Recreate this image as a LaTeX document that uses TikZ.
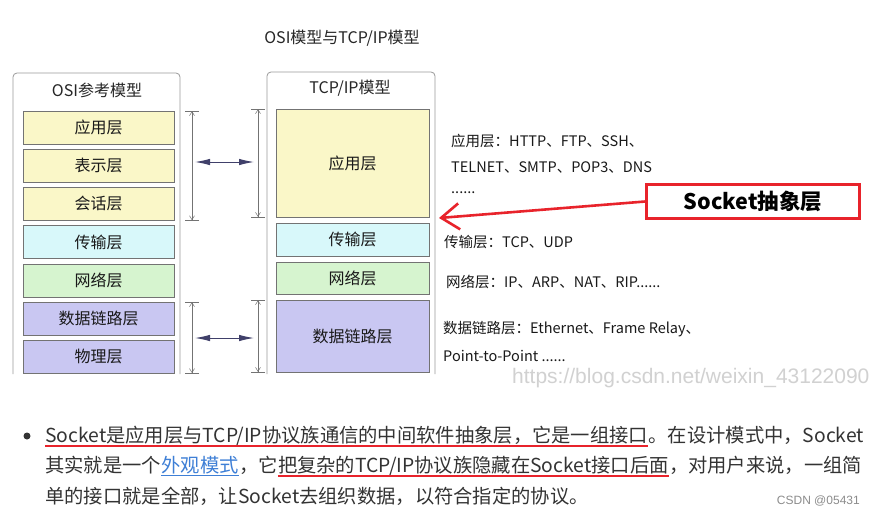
\documentclass[tikz,border=0pt]{standalone}
\usepackage{fontspec}
\setmainfont{Noto Sans CJK SC}
\newfontfamily\wmfont{Liberation Sans}
\usetikzlibrary{arrows.meta}
\definecolor{layeryellow}{HTML}{FAF7C8}
\definecolor{layercyan}{HTML}{D8F8FA}
\definecolor{layergreen}{HTML}{D6F4CF}
\definecolor{layerpurple}{HTML}{C9C7F2}
\definecolor{linkblue}{HTML}{3E7FD6}
\definecolor{textgray}{HTML}{333333}
\definecolor{markred}{HTML}{E8232B}
\definecolor{navy}{HTML}{1E1E50}

\begin{document}
\begin{tikzpicture}[x=1pt,y=-1pt,
  outer/.style={draw=black!40,line width=0.8pt,rounded corners=4pt},
  layer/.style={draw=black!55,line width=0.6pt,inner sep=0pt,font=\fontsize{16}{16}\selectfont,text=black!90},
  dim/.style={draw=black!55,line width=0.5pt,{Bar[width=14pt]Straight Barb[length=4pt,width=5pt]}-{Straight Barb[length=4pt,width=5pt]Bar[width=14pt]}},
  link/.style={draw=navy!85,line width=1pt,{Latex[length=15pt,width=6.5pt]}-{Latex[length=15pt,width=6.5pt]}},
  proto/.style={anchor=west,inner sep=0pt,font=\fontsize{14.5}{14.5}\selectfont,text=black!90},
  para/.style={anchor=base west,inner sep=0pt,font=\fontsize{19.3}{19.3}\selectfont,text=textgray},
  redline/.style={draw=markred,line width=1.4pt}]
  \useasboundingbox[fill=white] (0,0) rectangle (872,517);

  % models
  \node[font=\fontsize{16}{16}\selectfont,text=black!85] (title) at (342,38) {OSI模型与TCP/IP模型};
  \draw[outer] (13,374) -- (13,73) -- (180,73) -- (180,374);
  \draw[outer] (267,374) -- (267,72) -- (435,72) -- (435,374);
  \node[font=\fontsize{16}{16}\selectfont,text=black!85] (osititle) at (97,90) {OSI参考模型};
  \node[font=\fontsize{16}{16}\selectfont,text=black!85] (tcptitle) at (350,88) {TCP/IP模型};
  \foreach \i/\name/\col in {0/应用层/layeryellow,1/表示层/layeryellow,2/会话层/layeryellow,3/传输层/layercyan,4/网络层/layergreen,5/数据链路层/layerpurple,6/物理层/layerpurple}{
    \node[layer,fill=\col,minimum width=151pt,minimum height=33pt] (osi\i) at (98.5,{127.5+\i*38.2}) {\name};
  }
  \node[layer,fill=layeryellow,minimum width=153pt,minimum height=108pt] (tcp0) at (352.5,163) {应用层};
  \node[layer,fill=layercyan,minimum width=153pt,minimum height=33pt] (tcp1) at (352.5,239.5) {传输层};
  \node[layer,fill=layergreen,minimum width=153pt,minimum height=32pt] (tcp2) at (352.5,278) {网络层};
  \node[layer,fill=layerpurple,minimum width=153pt,minimum height=72pt] (tcp3) at (352.5,336) {数据链路层};

  % mapping
  \coordinate (dimL) at (192,0);
  \coordinate (dimR) at (258,0);
  \draw[dim] (osi0.north -| dimL) -- (osi2.south -| dimL);
  \draw[dim] (tcp0.north -| dimR) -- (tcp0.south -| dimR);
  \draw[dim] (osi5.north -| dimL) -- (osi6.south -| dimL);
  \draw[dim] (tcp3.north -| dimR) -- (tcp3.south -| dimR);
  \coordinate (upL) at (195,162);
  \coordinate (upR) at (254,162);
  \coordinate (lowL) at (195,338);
  \coordinate (lowR) at (254,338);
  \draw[link] (upL) -- (upR);
  \draw[link] (lowL) -- (lowR);

  % protocols
  \node[proto] (app1) at (451,141) {应用层：HTTP、FTP、SSH、};
  \node[proto] (app2) at (451,167) {TELNET、SMTP、POP3、DNS};
  \node[proto] (app3) at (451,193) {......};
  \node[proto] (trans) at (444,242) {传输层：TCP、UDP};
  \node[proto] (net) at (446,282) {网络层：IP、ARP、NAT、RIP......};
  \node[proto] (link1) at (443,329) {数据链路层：Ethernet、Frame Relay、};
  \node[proto] (link2) at (443,356) {Point-to-Point ......};
  \node[draw=markred,line width=2.6pt,minimum width=213pt,minimum height=34pt,inner sep=0pt,font=\fontsize{21.5}{21.5}\selectfont\bfseries] (socket) at (753,201.5) {Socket抽象层};
  \coordinate (tip) at (439,218);
  \draw[markred,line width=2.6pt,-{Straight Barb[length=18pt,width=26pt]}] (socket.west) -- (tip);
  \node[anchor=west,inner sep=0pt,font=\wmfont\fontsize{21}{21}\selectfont,text=black!18] (wm) at (512,378) {https://blog.csdn.net/weixin\_43122090};

  % paragraph
  \node[circle,fill=textgray,inner sep=0pt,minimum size=7pt] (bullet) at (27,436) {};
  \node[para] (l1a) at (45,442) {Socket是应用层与TCP/IP协议族通信的中间软件抽象层，它是一组接口};
  \node[para] (l1b) at (l1a.base east) {。在设计模式中，Socket};
  \draw[redline] ([yshift=-4pt]l1a.base west) -- ([yshift=-4pt]l1a.base east);
  \node[para] (l2a) at (45,472) {其实就是一个};
  \node[para,text=linkblue] (l2b) at (l2a.base east) {外观模式};
  \draw[linkblue,line width=0.8pt] ([yshift=-3pt]l2b.base west) -- ([yshift=-3pt]l2b.base east);
  \node[para] (l2c) at (l2b.base east) {，它};
  \node[para] (l2d) at (l2c.base east) {把复杂的TCP/IP协议族隐藏在Socket接口后面};
  \node[para] (l2e) at (l2d.base east) {，对用户来说，一组简};
  \draw[redline] ([yshift=-4pt]l2d.base west) -- ([yshift=-4pt]l2d.base east);
  \node[para] (l3) at (45,503) {单的接口就是全部，让Socket去组织数据，以符合指定的协议。};
  \node[anchor=east,inner sep=0pt,font=\wmfont\fontsize{12}{12}\selectfont,text=black!45] (csdn) at (860,501) {CSDN @05431};
\end{tikzpicture}
\end{document}
